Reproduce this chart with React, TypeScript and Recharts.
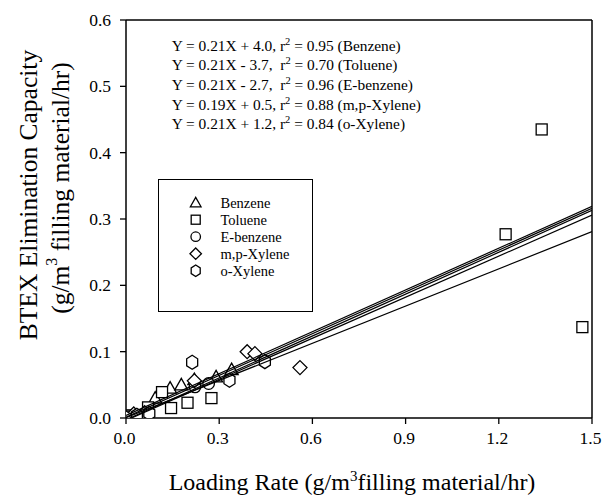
import React from 'react';
import { ScatterChart, Scatter, XAxis, YAxis, ReferenceLine, Legend, Customized } from 'recharts';

const FONT = "'Liberation Serif', 'Times New Roman', Times, serif";
const INK = '#000';

// ---- data ----
const seriesNames = ['Benzene', 'Toluene', 'E-benzene', 'm,p-Xylene', 'o-Xylene'];
const seriesKinds = ['tri', 'sq', 'circ', 'dia', 'hex'];

const benzeneX = [0.0, 0.094, 0.142, 0.178, 0.22, 0.29, 0.34];
const benzeneY = [0.0, 0.030, 0.045, 0.050, 0.058, 0.062, 0.073];

const tolueneX = [0.02, 0.071, 0.116, 0.145, 0.198, 0.275, 1.222, 1.338, 1.469];
const tolueneY = [0.004, 0.016, 0.039, 0.015, 0.023, 0.030, 0.277, 0.435, 0.137];

const ebenzeneX = [0.01, 0.045, 0.222, 0.266];
const ebenzeneY = [0.002, 0.003, 0.047, 0.052];

const mpXyleneX = [0.025, 0.06, 0.22, 0.39, 0.415, 0.56];
const mpXyleneY = [0.006, 0.008, 0.056, 0.100, 0.097, 0.076];

const oXyleneX = [0.0, 0.035, 0.075, 0.213, 0.333, 0.447];
const oXyleneY = [0.0, 0.004, 0.007, 0.084, 0.057, 0.085];

// regression lines (endpoints)
const lineX = [0, 1.5];
const benzeneLine = [0.004, 0.319];
const tolueneLine = [-0.0037, 0.306];
const ebenzeneLine = [-0.0027, 0.313];
const mpXyleneLine = [0.0005, 0.281];
const oXyleneLine = [0.0012, 0.316];

const xTicks = [0, 0.3, 0.6, 0.9, 1.2, 1.5];
const yTicks = [0, 0.1, 0.2, 0.3, 0.4, 0.5, 0.6];

const eqBefore = [
  'Y = 0.21X + 4.0, r',
  'Y = 0.21X - 3.7,  r',
  'Y = 0.21X - 2.7,  r',
  'Y = 0.19X + 0.5, r',
  'Y = 0.21X + 1.2, r',
];
const eqAfter = [
  ' = 0.95 (Benzene)',
  ' = 0.70 (Toluene)',
  ' = 0.96 (E-benzene)',
  ' = 0.88 (m,p-Xylene)',
  ' = 0.84 (o-Xylene)',
];

const xLabelMain = 'Loading Rate (g/m';
const xLabelRest = 'filling material/hr)';
const yLabelLine1 = 'BTEX Elimination Capacity';
const yLabelPre = '(g/m';
const yLabelPost = ' filling material/hr)';

const toPts = (xs: number[], ys: number[]) => xs.map((x, i) => ({ x, y: ys[i] }));

const pointSeries = [
  toPts(benzeneX, benzeneY),
  toPts(tolueneX, tolueneY),
  toPts(ebenzeneX, ebenzeneY),
  toPts(mpXyleneX, mpXyleneY),
  toPts(oXyleneX, oXyleneY),
];
const lineSeries = [benzeneLine, tolueneLine, ebenzeneLine, mpXyleneLine, oXyleneLine].map((ys) =>
  toPts(lineX, ys)
);

// ---- markers ----
function Marker({ kind, cx, cy, s = 1 }: { kind: string; cx: number; cy: number; s?: number }) {
  const common = { fill: '#fff', stroke: INK, strokeWidth: 1.3 };
  if (cx == null || cy == null) return <g />;
  switch (kind) {
    case 'tri':
      return (
        <polygon
          {...common}
          points={`${cx},${cy - 6.5 * s} ${cx + 6.5 * s},${cy + 5 * s} ${cx - 6.5 * s},${cy + 5 * s}`}
        />
      );
    case 'sq':
      return <rect {...common} x={cx - 5.5 * s} y={cy - 5.5 * s} width={11 * s} height={11 * s} />;
    case 'circ':
      return <circle {...common} cx={cx} cy={cy} r={5.8 * s} />;
    case 'dia':
      return (
        <polygon
          {...common}
          points={`${cx},${cy - 7 * s} ${cx + 7 * s},${cy} ${cx},${cy + 7 * s} ${cx - 7 * s},${cy}`}
        />
      );
    case 'hex':
    default:
      return (
        <polygon
          {...common}
          points={`${cx},${cy - 7 * s} ${cx + 5.5 * s},${cy - 3.5 * s} ${cx + 5.5 * s},${cy + 3.5 * s} ${cx},${cy + 7 * s} ${cx - 5.5 * s},${cy + 3.5 * s} ${cx - 5.5 * s},${cy - 3.5 * s}`}
        />
      );
  }
}

const fmt = (v: number) => v.toFixed(1);

function XTick(props: any) {
  const { x, y, payload } = props;
  return (
    <text x={x - 1.5} y={y} dy={12} textAnchor="middle" style={{ fontFamily: FONT, fontSize: 17.5 }} fill={INK}>
      {fmt(payload.value)}
    </text>
  );
}

function YTick(props: any) {
  const { x, y, payload } = props;
  return (
    <text x={x} y={y} dy={6} textAnchor="end" style={{ fontFamily: FONT, fontSize: 17.5 }} fill={INK}>
      {fmt(payload.value)}
    </text>
  );
}

// ---- labels ----
function YLabel(props: any) {
  const vb = props.viewBox || { x: 0, y: 12, width: 118, height: 398 };
  const mid = vb.y + vb.height / 2;
  const cy1 = mid - 24;
  const cy2 = mid - 31;
  const x1 = vb.x + 20;
  const x2 = vb.x + 52;
  return (
    <g fill={INK} style={{ fontFamily: FONT, fontSize: 25.5 }}>
      <text x={x1} y={cy1} transform={`rotate(-90 ${x1} ${cy1})`} textAnchor="middle" dominantBaseline="central">
        {yLabelLine1}
      </text>
      <text x={x2} y={cy2} transform={`rotate(-90 ${x2} ${cy2})`} textAnchor="middle" dominantBaseline="central">
        {yLabelPre}
        <tspan dy={-9} style={{ fontSize: 16 }}>3</tspan>
        <tspan dy={9}>{yLabelPost}</tspan>
      </text>
    </g>
  );
}

function XLabel(props: any) {
  const vb = props.viewBox || { x: 118, y: 410, width: 466, height: 70 };
  const cx = vb.x + vb.width / 2 - 7;
  const by = vb.y + 72;
  return (
    <text x={cx} y={by} textAnchor="middle" fill={INK} style={{ fontFamily: FONT, fontSize: 24 }}>
      {xLabelMain}
      <tspan dy={-9} style={{ fontSize: 15 }}>3</tspan>
      <tspan dy={9}>{xLabelRest}</tspan>
    </text>
  );
}

function Equations() {
  return (
    <g fill={INK} style={{ fontFamily: FONT, fontSize: 15.4, whiteSpace: 'pre' }}>
      {eqBefore.map((t, i) => (
        <text key={i} x={163.7} y={42.7 + i * 19.6} xmlSpace="preserve">
          {t}
          <tspan dy={-6} style={{ fontSize: 10.5 }}>2</tspan>
          <tspan dy={6}>{eqAfter[i]}</tspan>
        </text>
      ))}
    </g>
  );
}

function LegendBox() {
  return (
    <svg width={153} height={131} style={{ display: 'block' }}>
      {seriesNames.map((n, i) => {
        const cy = 22.7 + i * 17;
        return (
          <g key={n}>
            <Marker kind={seriesKinds[i]} cx={36.7} cy={cy} s={0.82} />
            <text x={61.5} y={cy} dominantBaseline="central" fill={INK} style={{ fontFamily: FONT, fontSize: 14.5 }}>
              {n}
            </text>
          </g>
        );
      })}
    </svg>
  );
}

const pageCss =
  'html { overflow: hidden; } body { margin: 8px 0 0 8px !important; } ' +
  '#root { overflow: visible !important; } ' +
  '.recharts-wrapper, .recharts-surface { overflow: visible !important; }';

export default function App() {
  return (
    <div style={{ width: 596, height: 488 }}>
      <style>{pageCss}</style>
      <ScatterChart width={596} height={488} margin={{ top: 12, right: 12, left: 0, bottom: 8 }}>
        <XAxis
          type="number"
          dataKey="x"
          domain={[0, 1.5]}
          ticks={xTicks}
          allowDataOverflow
          height={70}
          tickSize={6}
          tickMargin={8}
          tick={<XTick />}
          axisLine={{ stroke: INK, strokeWidth: 1.5 }}
          tickLine={{ stroke: INK, strokeWidth: 1.3 }}
          label={{ content: XLabel }}
        />
        <YAxis
          type="number"
          dataKey="y"
          domain={[0, 0.6]}
          ticks={yTicks}
          allowDataOverflow
          width={118}
          tickSize={6}
          tickMargin={9}
          tick={<YTick />}
          axisLine={{ stroke: INK, strokeWidth: 1.5 }}
          tickLine={{ stroke: INK, strokeWidth: 1.3 }}
          label={{ content: YLabel }}
        />
        <ReferenceLine y={0.6} stroke={INK} strokeWidth={1.5} />
        <ReferenceLine x={1.5} stroke={INK} strokeWidth={1.5} />
        {pointSeries.map((pts, i) => (
          <Scatter
            key={'p' + i}
            name={seriesNames[i]}
            data={pts}
            isAnimationActive={false}
            shape={(p: any) => <Marker kind={seriesKinds[i]} cx={p.cx} cy={p.cy} />}
          />
        ))}
        {lineSeries.map((pts, i) => (
          <Scatter
            key={'l' + i}
            name={seriesNames[i] + ' fit'}
            data={pts}
            isAnimationActive={false}
            line={{ stroke: INK, strokeWidth: 1.2 }}
            shape={() => <g />}
            legendType="none"
          />
        ))}
        <Customized component={Equations} />
        <Legend
          layout="vertical"
          align="center"
          verticalAlign="middle"
          content={LegendBox}
          wrapperStyle={{
            position: 'absolute',
            left: 150.3,
            top: 171.3,
            width: 155,
            height: 133,
            border: '1.2px solid #000',
            boxSizing: 'border-box',
            background: 'transparent',
          }}
        />
      </ScatterChart>
    </div>
  );
}
